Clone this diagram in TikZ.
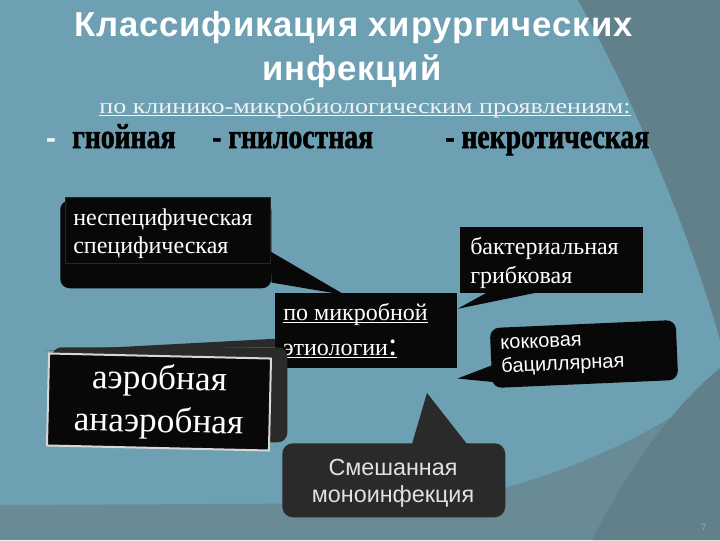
\documentclass[tikz,border=0pt]{standalone}
\usepackage{fontspec}
\setmainfont{Liberation Serif}
\setsansfont{Liberation Sans}
\newfontfamily\titlefont[LetterSpace=2.5]{Liberation Sans Bold}
\newfontfamily\subtitlefont[FakeStretch=1.22]{Liberation Serif}
\newfontfamily\kindfont[FakeStretch=0.8, FakeBold=1.5]{Liberation Serif Bold}
\usetikzlibrary{calc}

\definecolor{slideteal}{RGB}{108,160,178}
\definecolor{slidemid}{RGB}{105,139,150}
\definecolor{slidedark}{RGB}{98,128,138}
\definecolor{calloutgray}{RGB}{42,42,42}
\definecolor{calloutblack}{RGB}{8,8,8}
\definecolor{boxedge}{RGB}{40,40,40}
\definecolor{aeredge}{RGB}{215,215,215}
\definecolor{subtitlewhite}{RGB}{238,242,244}
\definecolor{mixtext}{RGB}{225,225,225}
\definecolor{pagegray}{RGB}{150,172,182}

\newcommand{\pxu}{0.75pt}
\newcommand{\ulinetext}[1]{\underline{\smash{#1}}}

\tikzset{
  titletext/.style={font=\titlefont\fontsize{26}{28}\selectfont, text=white, inner sep=0pt, anchor=base},
  subtitletext/.style={font=\subtitlefont\fontsize{16}{18}\selectfont, text=subtitlewhite, inner sep=0pt, anchor=base},
  kindtext/.style={font=\kindfont\fontsize{26}{28}\selectfont, text=black, inner sep=0pt, anchor=base west},
  blackbox/.style={fill=calloutblack, inner sep=0pt, anchor=north west},
  roundbox/.style={blackbox, rounded corners=7pt},
  boxtext/.style={text=white, inner sep=0pt, anchor=base west, align=left},
  tail/.style={fill=calloutblack},
}

\begin{document}
\begin{tikzpicture}[x=0.75pt,y=0.75pt,yscale=-1,xscale=1]
\useasboundingbox (0,0) rectangle (720,540);

%Background
\fill[slideteal] (0,0) rectangle (720,540);
%Background: lower band
\fill[slidemid] (0,505) -- (420,503) .. controls (520,495) and (640,445) .. (720,385) -- (720,540) -- (0,540) -- cycle;
%Background: right arc
\fill[slidedark] (578,0) .. controls (640,110) and (695,250) .. (720,340) -- (720,0) -- cycle;
%Background: lower right arc
\fill[slidedark] (592,540) .. controls (630,465) and (675,405) .. (720,368) -- (720,540) -- cycle;

% Title
\node[titletext] (title1) at (353.5,36) {Классификация хирургических};
\node[titletext] (title2) at (352,80) {инфекций};
% Subtitle
\node[subtitletext] (subtitle) at (365,113) {\ulinetext{по клинико-микробиологическим проявлениям:}};

% Kinds
\node[kindtext, text=subtitlewhite] (dash) at (46,148) {-};
\node[kindtext] (pus) at (72,148) {гнойная};
\node[kindtext] (putrid) at (212,148) {- гнилостная};
\node[kindtext] (necro) at (445,148) {- некротическая};

% Callout: specificity
\node[roundbox, minimum width=211*\pxu, minimum height=88*\pxu] (specback) at (60,200) {};
\node[blackbox, draw=boxedge, minimum width=205*\pxu, minimum height=66*\pxu] (spec) at (65,197) {};
\node[boxtext, font=\fontsize{18}{21}\selectfont] (spectext) at ($(spec.north west)+(8,56)$)
  {неспецифическая\\специфическая};

% Box: microbial etiology
\node[blackbox, minimum width=182*\pxu, minimum height=75*\pxu] (microb) at (275,293) {};
\node[boxtext, font=\fontsize{18}{26.25}\selectfont] (microbtext) at ($(microb.north west)+(8,62)$)
  {\ulinetext{по микробной}\\\ulinetext{этиологии{\fontsize{25}{26}\selectfont:}}};
\fill[tail] ($(spec.south east)+(0,-12)$) -- ($(microb.north west)+(70,2)$) -- ($(specback.south east)+(0,-6)$) -- cycle;

% Callout: bacteria / fungi
\node[blackbox, minimum width=183*\pxu, minimum height=66*\pxu] (bact) at (460,227) {};
\node[boxtext, font=\fontsize{18}{21.75}\selectfont] (bacttext) at ($(bact.north west)+(10,56)$)
  {бактериальная\\грибковая};
\fill[tail] ($(bact.south west)+(27,-1)$) -- ($(microb.east)+(0,-22)$) -- ($(bact.south west)+(77,-1)$) -- cycle;

% Callout: aerobic / anaerobic
\coordinate (aertip) at (45,351);
\node[fill=calloutgray, rounded corners=7pt, minimum width=235*\pxu, minimum height=95*\pxu, anchor=north west] (aerback) at (52,347) {};
\fill[calloutgray] (aertip) -- ($(microb.west)+(0,8)$) -- ($(microb.west)+(0,16)$) -- cycle;
\node[fill=calloutblack, draw=aeredge, line width=1.5pt, rotate=-1.3, minimum width=222*\pxu, minimum height=92*\pxu,
  text=white, align=center, font=\fontsize{26.5}{32}\selectfont] (aer) at (159,402)
  {аэробная\\анаэробная};

% Callout: cocci / bacilli
\coordinate (kokktip) at ($(microb.south east)+(0,10)$);
\node[fill=calloutblack, rounded corners=7pt, rotate=2.5, minimum width=186*\pxu, minimum height=60*\pxu,
  text width=166*\pxu, inner xsep=10*\pxu, align=left, text=white, font=\sffamily\fontsize{15}{17.5}\selectfont] (kokk) at (584,354)
  {кокковая\\бациллярная};
\fill[tail] ($(kokk.south west)!0.1!(kokk.north west)+(4,0)$) -- (kokktip) -- ($(kokk.south west)!0.4!(kokk.north west)+(4,0)$) -- cycle;

% Callout: mixed / mono
\coordinate (mixtip) at (427,393);
\node[fill=calloutgray, rounded corners=8pt, minimum width=223*\pxu, minimum height=74*\pxu, anchor=north west] (mix) at (282,443) {};
\node[boxtext, anchor=base, align=center, text=mixtext, font=\sffamily\fontsize{17.5}{20.25}\selectfont] (mixtext) at ($(mix.north west)+(111,59)$)
  {Смешанная\\моноинфекция};
\fill[calloutgray] ($(mix.north west)+(130,1)$) -- (mixtip) -- ($(mix.north west)+(185,1)$) -- cycle;

% Page number
\node[font=\sffamily\fontsize{7}{7}\selectfont, text=pagegray] (pagenum) at (704,527) {7};

\end{tikzpicture}
\end{document}
